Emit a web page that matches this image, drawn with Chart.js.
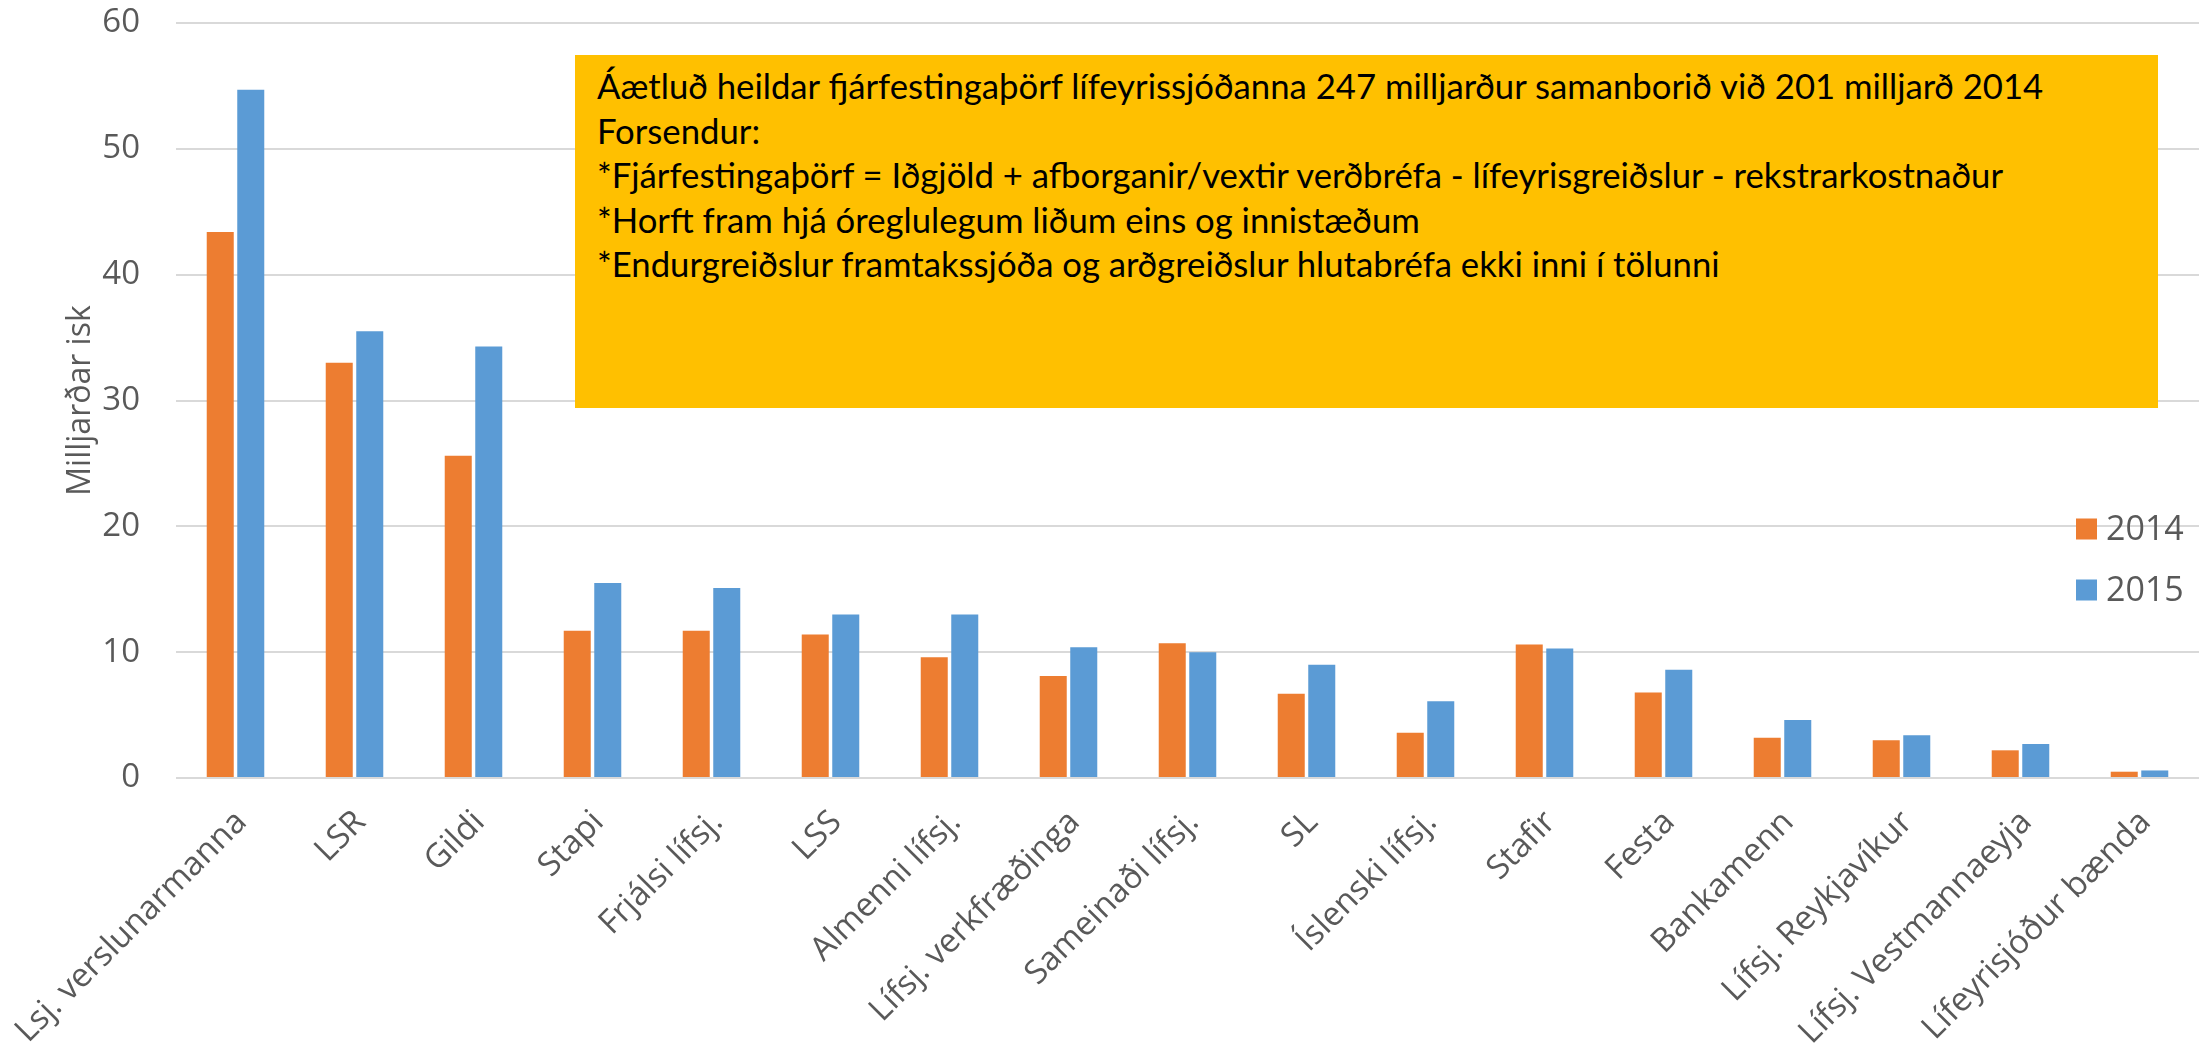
<!DOCTYPE html>
<html>
<head>
<meta charset="utf-8">
<script src="https://cdn.jsdelivr.net/npm/chart.js@4.4.1/dist/chart.umd.min.js"></script>
<style>
  html, body { margin: 0; padding: 0; background: #fff; }
  #wrap { position: relative; width: 2208px; height: 1048px; }
  #note {
    position: absolute; left: 575px; top: 55px; width: 1583px; height: 353px;
    background: #FFC000; box-sizing: border-box; padding: 9px 0 0 22px;
    font-family: Lato, sans-serif; font-size: 34.7px; line-height: 44.5px; color: #000;
    white-space: nowrap;
  }
</style>
</head>
<body>
<div id="wrap">
  <canvas id="chart" width="2208" height="1048"></canvas>
  <div id="note">
    Áætluð heildar fjárfestingaþörf lífeyrissjóðanna 247 milljarður samanborið við 201 milljarð 2014<br>
    Forsendur:<br>
    *Fjárfestingaþörf = Iðgjöld + afborganir/vextir verðbréfa - lífeyrisgreiðslur - rekstrarkostnaður<br>
    *Horft fram hjá óreglulegum liðum eins og innistæðum<br>
    *Endurgreiðslur framtakssjóða og arðgreiðslur hlutabréfa ekki inni í tölunni
  </div>
</div>
<script>
// data (milljarðar isk)
var categories = ['Lsj. verslunarmanna', 'LSR', 'Gildi', 'Stapi', 'Frjálsi lífsj.', 'LSS', 'Almenni lífsj.',
    'Lífsj. verkfræðinga', 'Sameinaði lífsj.', 'SL', 'Íslenski lífsj.', 'Stafir', 'Festa', 'Bankamenn',
    'Lífsj. Reykjavíkur', 'Lífsj. Vestmannaeyja', 'Lífeyrisjóður bænda'];
var values2014 = [43.4, 33.0, 25.6, 11.7, 11.7, 11.4, 9.6, 8.1, 10.7, 6.7, 3.6, 10.6, 6.8, 3.2, 3.0, 2.2, 0.5];
var values2015 = [54.7, 35.5, 34.3, 15.5, 15.1, 13.0, 13.0, 10.4, 10.0, 9.0, 6.1, 10.3, 8.6, 4.6, 3.4, 2.7, 0.6];
var seriesLabels = ['2014', '2015'];
var yTicks = [0, 10, 20, 30, 40, 50, 60];

var grey = '#595959';

// legend drawn over the plot area, like the original
var floatingLegend = {
    id: 'floatingLegend',
    afterDraw: function (chart) {
        var ctx = chart.ctx;
        ctx.save();
        ctx.font = '34px "Open Sans"';
        ctx.textBaseline = 'middle';
        chart.data.datasets.forEach(function (ds, i) {
            var y = 529 + i * 61;
            ctx.fillStyle = ds.backgroundColor;
            ctx.fillRect(2076, y - 10.5, 21, 21);
            ctx.fillStyle = grey;
            ctx.fillText(ds.label, 2106, y + 1);
        });
        ctx.restore();
    }
};

var ctx = document.getElementById('chart').getContext('2d');
var myChart = new Chart(ctx, {
    type: 'bar',
    data: {
        labels: categories,
        datasets: [
            { label: seriesLabels[0], data: values2014, backgroundColor: '#ED7D31' },
            { label: seriesLabels[1], data: values2015, backgroundColor: '#5B9BD5' }
        ]
    },
    options: {
        responsive: false,
        animation: false,
        layout: { padding: { top: 23, right: 9, left: 0, bottom: 0 } },
        datasets: { bar: { categoryPercentage: 0.513, barPercentage: 0.885 } },
        plugins: { legend: { display: false }, tooltip: { enabled: false } },
        scales: {
            x: {
                grid: { display: false },
                border: { display: false },
                ticks: {
                    autoSkip: false, minRotation: 45, maxRotation: 45, padding: 17, labelOffset: 6,
                    color: grey, font: { family: 'Open Sans', size: 33 }
                },
                afterFit: function (scale) {
                    scale.height = 270;
                    scale.paddingLeft = 0;
                    scale.paddingRight = 0;
                }
            },
            y: {
                min: 0, max: 60,
                afterBuildTicks: function (scale) {
                    scale.ticks = yTicks.map(function (v) { return { value: v }; });
                },
                grid: { color: '#D9D9D9', lineWidth: 2, drawTicks: false },
                border: { display: false },
                ticks: { padding: 36, color: grey, font: { family: 'Open Sans', size: 33 } },
                title: {
                    display: true, text: 'Milljarðar isk', color: grey,
                    font: { family: 'Open Sans', size: 32 }, padding: { top: 62, bottom: 0 }
                },
                afterFit: function (scale) {
                    scale.width = 176;
                    scale.paddingTop = 0;
                    scale.paddingBottom = 0;
                }
            }
        }
    },
    plugins: [floatingLegend]
});
</script>
</body>
</html>
